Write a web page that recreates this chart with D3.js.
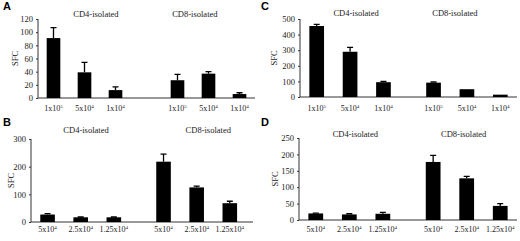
<!DOCTYPE html>
<html>
<head>
<meta charset="utf-8">
<script src="https://cdn.jsdelivr.net/npm/d3@7"></script>
<style>
  body { margin: 0; background: #fff; }
  text { font-family: "Liberation Serif", "Times New Roman", serif; fill: #1a1a1a; }
  .letter { font-family: "Liberation Sans", Arial, sans-serif; font-weight: bold; font-size: 11px; fill: #000; }
</style>
</head>
<body>
<div id="chart"></div>
<script>
// group headings and cell-number categories
const groups = ["CD4-isolated", "CD8-isolated"];
const catsAC = ["1x10^5", "5x10^4", "1x10^4", "1x10^5", "5x10^4", "1x10^4"];
const catsBD = ["5x10^4", "2.5x10^4", "1.25x10^4", "5x10^4", "2.5x10^4", "1.25x10^4"];

// SFC means and error (upper bar only)
const valuesA = [91, 39, 12, 27, 37, 6];
const errorsA = [16, 15, 5, 9, 3, 2];
const valuesB = [27, 17, 17, 218, 125, 68];
const errorsB = [3, 1, 1, 27, 5, 7];
const valuesC = [455, 290, 95, 92, 50, 15];
const errorsC = [10, 28, 5, 4, 0, 0];
const valuesD = [20, 17, 19, 177, 127, 43];
const errorsD = [1, 2, 4, 20, 6, 7];

// y axis tick values
const ticksA = [0, 20, 40, 60, 80, 100, 120];
const ticksB = [0, 100, 200, 300];
const ticksC = [0, 100, 200, 300, 400, 500];
const ticksD = [0, 50, 100, 150, 200, 250];

const svg = d3.select("#chart").append("svg")
    .attr("width", 520)
    .attr("height", 241);

// panel layouts (pixels); slot positions for the 6 bars, with a gap between groups
const panels = [
    {letter: "A", lx: 3, ly: 10, left: 38, right: 255, top: 19, bottom: 98, slotMax: 6.5, gap: 2,
     cats: catsAC, values: valuesA, errors: errorsA, ticks: ticksA, groupPos: [1.37, 4.56], groupY: 16.5, tickY: 13, sfcX: 15},
    {letter: "B", lx: 3, ly: 126, left: 31, right: 253, top: 139, bottom: 222, slotMax: 6.2, gap: 1.5,
     cats: catsBD, values: valuesB, errors: errorsB, ticks: ticksB, groupPos: [1.16, 4.85], groupY: 133, tickY: 10, sfcX: 11},
    {letter: "C", lx: 261, ly: 10, left: 300, right: 517, top: 19, bottom: 97, slotMax: 6, gap: 1.5,
     cats: catsAC, values: valuesC, errors: errorsC, ticks: ticksC, groupPos: [1.18, 4.14], groupY: 16, tickY: 14, sfcX: 274},
    {letter: "D", lx: 261, ly: 126, left: 299, right: 517, top: 138, bottom: 220, slotMax: 6, gap: 1.5,
     cats: catsBD, values: valuesD, errors: errorsD, ticks: ticksD, groupPos: [1.18, 4.41], groupY: 137, tickY: 12, sfcX: 275}
];

function addTickLabel(sel, label) {
    let parts = label.split("^");
    sel.text(parts[0]);
    sel.append("tspan")
        .attr("dy", -3)
        .attr("font-size", "5px")
        .text(parts[1]);
}

panels.forEach(function(p) {
    let g = svg.append("g");

    let x = d3.scaleLinear()
        .domain([-0.5, p.slotMax])
        .range([p.left, p.right]);
    let y = d3.scaleLinear()
        .domain([0, d3.max(p.ticks)])
        .range([p.bottom, p.top]);

    let slotW = x(1) - x(0);
    let barW = slotW * 0.44;
    let slot = i => i < 3 ? i : i - 3 + 2 + p.gap;

    // panel letter
    g.append("text")
        .attr("class", "letter")
        .attr("x", p.lx).attr("y", p.ly)
        .text(p.letter);

    // y axis
    let yAxis = g.append("g")
        .attr("transform", "translate(" + p.left + ",0)")
        .call(d3.axisLeft(y).tickValues(p.ticks).tickSize(2).tickPadding(3));
    yAxis.select(".domain").attr("stroke", "#333").attr("d", "M0," + p.top + "V" + p.bottom);
    yAxis.selectAll(".tick line").attr("stroke", "#333");
    yAxis.selectAll(".tick text")
        .style("font-family", "Liberation Serif, serif")
        .style("font-size", "8.5px")
        .attr("fill", "#1a1a1a");

    // x axis baseline
    g.append("line")
        .attr("x1", p.left).attr("x2", p.right)
        .attr("y1", y(0)).attr("y2", y(0))
        .attr("stroke", "#333").attr("stroke-width", 1);

    // SFC label
    g.append("text")
        .attr("transform", "translate(" + p.sfcX + "," + ((p.top + p.bottom) / 2) + ") rotate(-90)")
        .attr("text-anchor", "middle")
        .attr("dy", "0.35em")
        .style("font-size", "8.5px")
        .text("SFC");

    // group headings
    g.selectAll(".grp")
        .data(groups)
        .join("text")
        .attr("class", "grp")
        .attr("x", (d, i) => x(p.groupPos[i]))
        .attr("y", p.groupY)
        .attr("text-anchor", "middle")
        .style("font-size", "8.5px")
        .text(d => d);

    // bars
    g.selectAll(".bar")
        .data(p.values)
        .join("rect")
        .attr("class", "bar")
        .attr("x", (d, i) => x(slot(i)) - barW / 2)
        .attr("width", barW)
        .attr("y", d => y(d))
        .attr("height", d => y(0) - y(d))
        .attr("fill", "#000");

    // error bars (upper only)
    let errs = p.values.map((v, i) => ({v: v, e: p.errors[i], i: i})).filter(d => d.e > 0);
    g.selectAll(".err")
        .data(errs)
        .join("path")
        .attr("class", "err")
        .attr("d", d => {
            let cx = x(slot(d.i));
            return "M" + cx + "," + y(d.v) + "V" + y(d.v + d.e) + "M" + (cx - 3) + "," + y(d.v + d.e) + "H" + (cx + 3);
        })
        .attr("stroke", "#000")
        .attr("stroke-width", 1.3)
        .attr("fill", "none");

    // category labels
    g.selectAll(".cat")
        .data(p.cats)
        .join("text")
        .attr("class", "cat")
        .attr("x", (d, i) => x(slot(i)))
        .attr("y", p.bottom + p.tickY)
        .attr("text-anchor", "middle")
        .style("font-size", "8px")
        .each(function(d) { addTickLabel(d3.select(this), d); });
});
</script>
</body>
</html>
